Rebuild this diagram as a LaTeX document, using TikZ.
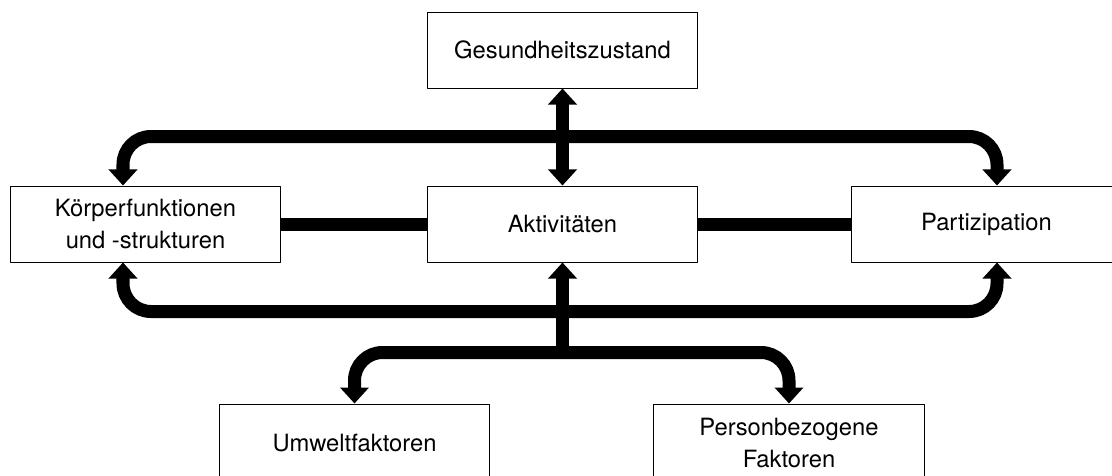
\documentclass[tikz,border=0pt]{standalone}
\usepackage{fontspec}
\setmainfont{TeX Gyre Heros}
\usepackage{tikz}
\usetikzlibrary{arrows.meta}

\begin{document}
\begin{tikzpicture}[x=0.025cm,y=-0.025cm,join=round,
    box/.style={draw,line width=0.7pt,minimum width=6.725cm,minimum height=1.9cm,
      inner sep=0pt,align=center,font=\fontsize{16.9}{22.7}\selectfont},
    bar/.style={line width=0.325cm},
    big/.style={bar,-{Triangle[width=0.7cm,length=0.4cm]}},
    bigboth/.style={bar,{Triangle[width=0.7cm,length=0.4cm]}-{Triangle[width=0.7cm,length=0.4cm]}},
    curved/.style={bigboth,rounded corners=0.7cm}]
         \useasboundingbox (0,0) rectangle (1112,475);
         % boxes
         \node[box] (gesund) at (562.5,50) {Gesundheitszustand};
         \node[box] (koerper) at (145.5,224) {Körperfunktionen\\und -strukturen};
         \node[box] (aktiv) at (562.5,224) {Aktivitäten};
         \node[box] (partiz) at (986.5,224) {Partizipation};
         \node[box,minimum height=1.95cm] (umwelt) at (354.5,443) {Umweltfaktoren};
         \node[box,minimum width=6.75cm,minimum height=1.95cm] (person) at (789,443) {Personbezogene\\Faktoren};
         % junctions
         \coordinate (top) at (562.5,136.5);
         \coordinate (low) at (562.5,311.5);
         \coordinate (mid) at (562.5,352.5);
         \coordinate (kx) at (123,0);
         \coordinate (px) at (997,0);
         % connectors
         \draw[bar] (koerper) -- (aktiv);
         \draw[bar] (aktiv) -- (partiz);
         \draw[bigboth] (gesund) -- (aktiv);
         \draw[curved] (koerper.north -| kx) |- (top) -| (partiz.north -| px);
         \draw[curved] (koerper.south -| kx) |- (low) -| (partiz.south -| px);
         \draw[big] (mid) -- (aktiv);
         \draw[curved] (umwelt.north) |- (mid) -| (person.north);
    \end{tikzpicture}
\end{document}
